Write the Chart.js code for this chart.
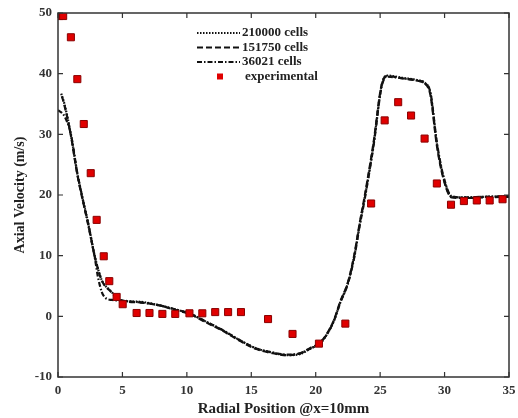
<!DOCTYPE html>
<html>
<head>
<meta charset="utf-8">
<script src="https://cdn.jsdelivr.net/npm/chart.js@4/dist/chart.umd.min.js"></script>
<style>
html,body{margin:0;padding:0;background:#fff;}
#wrap{width:518px;height:418px;}
</style>
</head>
<body>
<div id="wrap"><canvas id="c" width="518" height="418"></canvas></div>
<script>
const xTicks = [0, 5, 10, 15, 20, 25, 30, 35];
const yTicks = [-10, 0, 10, 20, 30, 40, 50];

const r210000 = [0.25, 0.5, 1.0, 1.5, 1.85, 2.35, 2.87, 3.4, 4.04, 4.94, 6.36, 7.9, 9.0, 10.2, 11.5, 12.8, 14.0, 15.4, 16.5, 17.75, 18.8, 19.6, 20.3, 20.8, 21.4, 21.9, 22.5, 23.0, 23.4, 23.8, 24.5, 25.1, 25.5, 26.8, 28.0, 28.4, 28.9, 29.4, 29.9, 30.55, 31.5, 33.0, 35.0];
const v210000 = [36.7, 35.0, 30.0, 23.5, 20.0, 15.3, 9.8, 5.95, 4.3, 2.6, 2.4, 1.8, 1.2, 0.45, -0.9, -2.3, -3.8, -5.3, -5.9, -6.4, -6.2, -5.3, -4.5, -3.2, -0.8, 2.3, 5.5, 10.0, 15.0, 19.5, 28.5, 37.9, 39.7, 39.3, 38.9, 38.6, 36.8, 28.5, 23.0, 19.7, 19.6, 19.7, 19.8];

const r151750 = [0.3, 0.5, 1.0, 1.5, 1.85, 2.35, 2.87, 3.4, 4.04, 4.94, 6.36, 7.9, 9.0, 10.2, 11.5, 12.8, 14.0, 15.4, 16.5, 17.75, 18.8, 19.6, 20.3, 20.8, 21.4, 21.9, 22.5, 23.0, 23.4, 23.8, 24.5, 25.1, 25.5, 26.8, 28.0, 28.4, 28.9, 29.4, 29.9, 30.55, 31.5, 33.0, 35.0];
const v151750 = [36.3, 34.8, 29.8, 23.4, 19.8, 15.2, 9.7, 5.9, 4.2, 2.6, 2.3, 1.8, 1.1, 0.4, -1.0, -2.4, -3.9, -5.4, -6.0, -6.4, -6.1, -5.2, -4.4, -3.1, -0.7, 2.4, 5.6, 10.2, 15.2, 19.8, 28.8, 38.0, 39.6, 39.2, 38.8, 38.5, 36.5, 28.2, 22.8, 19.6, 19.5, 19.6, 19.7];

const r36021 = [0.0, 0.5, 1.0, 1.5, 1.85, 2.35, 2.87, 3.1, 3.4, 3.7, 4.2, 4.94, 6.36, 7.9, 9.0, 10.2, 11.5, 12.8, 14.0, 15.4, 16.5, 17.75, 18.8, 19.6, 20.3, 20.8, 21.4, 21.9, 22.5, 23.0, 23.4, 23.8, 24.5, 25.1, 25.5, 26.8, 28.0, 28.4, 28.9, 29.4, 29.9, 30.55, 31.5, 33.0, 35.0];
const v36021 = [34.0, 33.0, 30.0, 23.6, 20.0, 15.0, 9.5, 6.5, 4.0, 3.0, 2.7, 2.6, 2.3, 1.8, 1.2, 0.5, -0.9, -2.3, -3.8, -5.3, -5.9, -6.3, -6.1, -5.3, -4.5, -3.2, -0.8, 2.2, 5.4, 9.8, 14.8, 19.3, 28.3, 37.7, 39.5, 39.2, 38.8, 38.5, 36.9, 28.7, 23.2, 19.8, 19.6, 19.7, 19.8];

const rExp = [0.1, 0.4, 1.0, 1.5, 2.0, 2.54, 3.0, 3.55, 3.98, 4.55, 5.02, 6.1, 7.1, 8.1, 9.1, 10.2, 11.2, 12.2, 13.2, 14.2, 16.3, 18.2, 20.25, 22.3, 24.3, 25.35, 26.4, 27.4, 28.45, 29.4, 30.5, 31.5, 32.5, 33.5, 34.5];
const vExp = [49.5, 49.5, 46.0, 39.1, 31.7, 23.6, 15.9, 9.9, 5.8, 3.2, 2.0, 0.55, 0.55, 0.4, 0.4, 0.5, 0.5, 0.7, 0.7, 0.7, -0.45, -2.9, -4.5, -1.2, 18.6, 32.3, 35.3, 33.1, 29.3, 21.9, 18.4, 19.0, 19.1, 19.1, 19.3];

const seriesLabels = ['210000 cells', '151750 cells', '36021 cells', 'experimental'];

function pts(xs, ys) { return xs.map((x, i) => ({x: x, y: ys[i]})); }

const SERIF = '"Liberation Serif", "DejaVu Serif", serif';

const frame = {
  id: 'frame',
  afterDatasetsDraw(chart) {
    const {ctx, chartArea: a, scales} = chart;
    ctx.save();
    ctx.strokeStyle = '#333';
    ctx.lineWidth = 1.5;
    ctx.strokeRect(a.left, a.top, a.right - a.left, a.bottom - a.top);
    ctx.lineWidth = 1.2;
    const t = 5;
    xTicks.forEach(v => {
      const px = scales.x.getPixelForValue(v);
      ctx.beginPath();
      ctx.moveTo(px, a.bottom); ctx.lineTo(px, a.bottom - t);
      ctx.moveTo(px, a.top); ctx.lineTo(px, a.top + t);
      ctx.stroke();
    });
    yTicks.forEach(v => {
      const py = scales.y.getPixelForValue(v);
      ctx.beginPath();
      ctx.moveTo(a.left, py); ctx.lineTo(a.left + t, py);
      ctx.moveTo(a.right, py); ctx.lineTo(a.right - t, py);
      ctx.stroke();
    });
    // legend
    const x0 = 197, x1 = 240, tx = 242;
    const rows = [33, 47.5, 62, 76.5];
    ctx.font = 'bold 13px ' + SERIF;
    ctx.textBaseline = 'middle';
    ctx.fillStyle = '#222';
    chart.data.datasets.forEach((ds, i) => {
      const y = rows[i];
      if (i < 3) {
        ctx.strokeStyle = '#111';
        ctx.lineWidth = 1.8;
        ctx.setLineDash(ds.borderDash);
        ctx.beginPath(); ctx.moveTo(x0, y); ctx.lineTo(x1, y); ctx.stroke();
        ctx.setLineDash([]);
      } else {
        ctx.fillStyle = ds.backgroundColor;
        ctx.fillRect(217, y - 3, 6, 6);
        ctx.fillStyle = '#222';
      }
      ctx.fillText(ds.label, i < 3 ? tx : 245, y);
    });
    ctx.restore();
  }
};

new Chart(document.getElementById('c'), {
  type: 'scatter',
  data: {
    datasets: [
      {label: seriesLabels[0], data: pts(r210000, v210000), showLine: true, borderColor: '#111', borderWidth: 2.2, borderDash: [1.5, 1.5], pointRadius: 0, cubicInterpolationMode: 'monotone', order: 3},
      {label: seriesLabels[1], data: pts(r151750, v151750), showLine: true, borderColor: '#111', borderWidth: 2.2, borderDash: [6, 3], pointRadius: 0, cubicInterpolationMode: 'monotone', order: 2},
      {label: seriesLabels[2], data: pts(r36021, v36021), showLine: true, borderColor: '#111', borderWidth: 2.2, borderDash: [5, 2, 1.5, 2], pointRadius: 0, cubicInterpolationMode: 'monotone', order: 1},
      {label: seriesLabels[3], data: pts(rExp, vExp), showLine: false, pointStyle: 'rect', pointRadius: 5, backgroundColor: '#e00000', borderColor: '#8a0000', borderWidth: 1, order: 0}
    ]
  },
  options: {
    responsive: false,
    animation: false,
    devicePixelRatio: 1,
    layout: {padding: {top: 13, right: 9, left: 0, bottom: 0}},
    plugins: {legend: {display: false}, tooltip: {enabled: false}},
    scales: {
      x: {
        type: 'linear', min: 0, max: 35,
        afterBuildTicks: s => { s.ticks = xTicks.map(v => ({value: v})); },
        afterFit: s => { s.height = 41; s.paddingLeft = 0; s.paddingRight = 0; },
        grid: {display: false, drawTicks: false},
        border: {display: false},
        ticks: {padding: 6, color: '#333', font: {family: SERIF, size: 13, weight: 'bold'}, maxRotation: 0},
        title: {display: true, text: 'Radial Position @x=10mm', color: '#222', padding: {top: 0, bottom: 0}, font: {family: SERIF, size: 15, weight: 'bold'}}
      },
      y: {
        type: 'linear', min: -10, max: 50,
        afterBuildTicks: s => { s.ticks = yTicks.map(v => ({value: v})); },
        afterFit: s => { s.width = 58; s.paddingTop = 0; s.paddingBottom = 0; },
        grid: {display: false, drawTicks: false},
        border: {display: false},
        ticks: {padding: 6, color: '#333', font: {family: SERIF, size: 13, weight: 'bold'}},
        title: {display: true, text: 'Axial Velocity (m/s)', color: '#222', padding: {top: 12, bottom: 0}, font: {family: SERIF, size: 14, weight: 'bold'}}
      }
    }
  },
  plugins: [frame]
});
</script>
</body>
</html>
